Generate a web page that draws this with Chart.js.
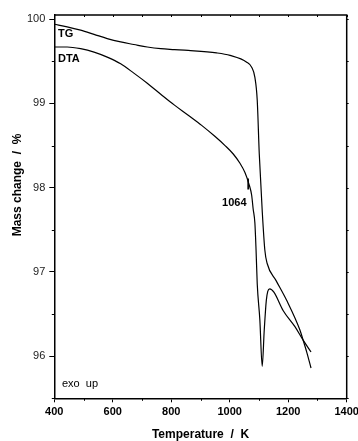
<!DOCTYPE html>
<html>
<head>
<meta charset="utf-8">
<script src="https://cdn.jsdelivr.net/npm/chart.js"></script>
<style>
  html, body { margin: 0; padding: 0; background: #fff; }
  #wrap { width: 358px; height: 441px; }
</style>
</head>
<body>
<div id="wrap"><canvas id="tgChart" width="358" height="441"></canvas></div>
<script>
// data
const tgTemp = [400, 444, 490, 536, 581, 627, 672, 718, 764, 811, 858, 955, 1001, 1058, 1075, 1086, 1094, 1101, 1111, 1120, 1128, 1158, 1195, 1240, 1251, 1264, 1278];
const tgMass = [99.94, 99.91, 99.87, 99.82, 99.77, 99.73, 99.70, 99.67, 99.65, 99.64, 99.63, 99.60, 99.57, 99.49, 99.43, 99.31, 99.04, 98.40, 97.73, 97.26, 97.10, 96.90, 96.66, 96.31, 96.19, 96.04, 95.86];

const dtaTemp = [400, 444, 490, 536, 581, 627, 672, 718, 764, 811, 858, 904, 949, 984, 1012, 1035, 1052, 1066, 1075, 1080, 1086, 1090, 1094, 1103, 1111, 1118, 1125, 1130, 1137, 1151, 1183, 1223, 1251, 1278];
const dtaSignal = [99.67, 99.67, 99.65, 99.61, 99.55, 99.47, 99.36, 99.24, 99.11, 98.98, 98.86, 98.74, 98.61, 98.50, 98.40, 98.29, 98.18, 98.04, 97.91, 97.75, 97.58, 97.26, 96.86, 96.43, 95.88, 96.31, 96.66, 96.77, 96.80, 96.76, 96.54, 96.35, 96.19, 96.05];

// onset marker at 1064
const markTemp = [1063, 1063];
const markVal = [98.11, 97.98];

const xTicks = [400, 600, 800, 1000, 1200, 1400];
const xMinor = [500, 700, 900, 1100, 1300];
const yTicks = [96, 97, 98, 99, 100];
const yMinor = [95.5, 96.5, 97.5, 98.5, 99.5];

const FONT = '"Liberation Sans", Arial, sans-serif';

function pts(xs, ys) {
    return xs.map((x, i) => ({ x: x, y: ys[i] }));
}

// frame, minor ticks, titles and labels
const decor = {
    id: 'decor',
    afterDraw(chart) {
        const ctx = chart.ctx;
        const a = chart.chartArea;
        const xs = chart.scales.x;
        const ys = chart.scales.y;
        ctx.save();
        ctx.strokeStyle = '#000';
        ctx.lineWidth = 1.5;
        ctx.beginPath();
        ctx.moveTo(a.left, a.top);
        ctx.lineTo(a.right, a.top);
        ctx.lineTo(a.right, a.bottom);
        ctx.stroke();

        ctx.lineWidth = 1;
        ctx.beginPath();
        xMinor.forEach(v => {
            const px = Math.round(xs.getPixelForValue(v)) + 0.5;
            ctx.moveTo(px, a.bottom);
            ctx.lineTo(px, a.bottom + 2.5);
        });
        xTicks.concat(xMinor).forEach(v => {
            const px = Math.round(xs.getPixelForValue(v)) + 0.5;
            ctx.moveTo(px, a.top);
            ctx.lineTo(px, a.top + 2);
        });
        yMinor.forEach(v => {
            const py = Math.round(ys.getPixelForValue(v)) + 0.5;
            ctx.moveTo(a.left, py);
            ctx.lineTo(a.left - 2.5, py);
        });
        yTicks.concat(yMinor).forEach(v => {
            const py = Math.round(ys.getPixelForValue(v)) + 0.5;
            ctx.moveTo(a.right, py);
            ctx.lineTo(a.right + 2, py);
        });
        ctx.stroke();

        ctx.fillStyle = '#000';
        ctx.font = 'bold 12px ' + FONT;
        ctx.textAlign = 'center';
        ctx.textBaseline = 'middle';
        ctx.fillText('Temperature  /  K', (a.left + a.right) / 2, 435);
        ctx.save();
        ctx.translate(17.5, 185);
        ctx.rotate(-Math.PI / 2);
        ctx.fillText('Mass change  /  %', 0, 0);
        ctx.restore();

        ctx.textAlign = 'left';
        ctx.font = 'bold 11px ' + FONT;
        ctx.fillText('TG', 58, 33.5);
        ctx.fillText('DTA', 58, 58.5);
        ctx.textAlign = 'right';
        ctx.fillText('1064', 246.5, 202.5);
        ctx.textAlign = 'left';
        ctx.font = '11px ' + FONT;
        ctx.fillText('exo  up', 62, 384);
        ctx.restore();
    }
};

const lineStyle = { showLine: true, pointRadius: 0, borderColor: '#000', borderWidth: 1.2, cubicInterpolationMode: 'monotone' };

new Chart('tgChart', {
    type: 'scatter',
    data: {
        datasets: [
            Object.assign({ label: 'TG', data: pts(tgTemp, tgMass) }, lineStyle),
            Object.assign({ label: 'DTA', data: pts(dtaTemp, dtaSignal) }, lineStyle),
            Object.assign({}, lineStyle, { label: 'onset', data: pts(markTemp, markVal), borderWidth: 1.6, cubicInterpolationMode: 'default', tension: 0 })
        ]
    },
    options: {
        responsive: false,
        animation: false,
        layout: { padding: { top: 15, right: 11.3, left: 0, bottom: 0 } },
        plugins: {
            legend: { display: false },
            tooltip: { enabled: false }
        },
        scales: {
            x: {
                type: 'linear',
                min: 400,
                max: 1400,
                afterBuildTicks: s => { s.ticks = xTicks.map(v => ({ value: v })); },
                afterFit: s => { s.height = 42.7; s.paddingLeft = 0; s.paddingRight = 0; },
                grid: { drawOnChartArea: false, tickLength: 4, color: '#000' },
                border: { color: '#000', width: 1.5 },
                ticks: {
                    color: '#000',
                    padding: 3,
                    maxRotation: 0,
                    callback: v => String(v),
                    font: { family: FONT, size: 11, weight: 'bold' }
                }
            },
            y: {
                type: 'linear',
                min: 95.5,
                max: 100.05,
                afterBuildTicks: s => { s.ticks = yTicks.map(v => ({ value: v })); },
                afterFit: s => { s.width = 54.3; s.paddingTop = 0; s.paddingBottom = 0; },
                grid: { drawOnChartArea: false, tickLength: 5, color: '#000' },
                border: { color: '#000', width: 1.5 },
                ticks: {
                    color: '#222',
                    padding: 4,
                    callback: v => String(v),
                    font: { family: FONT, size: 11 }
                }
            }
        }
    },
    plugins: [decor]
});
</script>
</body>
</html>
